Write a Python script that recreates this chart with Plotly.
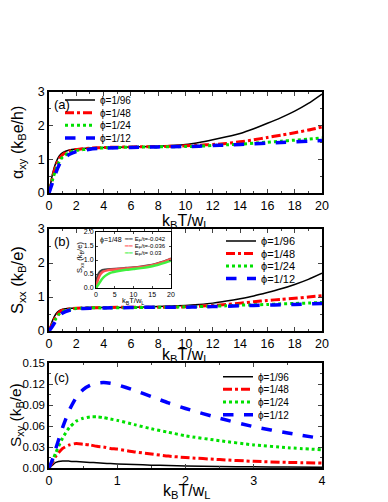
import plotly.graph_objects as go

# datos
phis = ['ϕ=1/96', 'ϕ=1/48', 'ϕ=1/24', 'ϕ=1/12']

T = [0, 0.25, 0.5, 0.75, 1, 1.5, 2, 3, 4, 6, 8, 10, 11, 12, 13, 14, 15, 16, 17, 18, 19, 20]

alpha_96 = [0, 0.55, 0.9, 1.1, 1.2, 1.28, 1.31, 1.34, 1.35, 1.37, 1.39, 1.44, 1.50, 1.58, 1.67, 1.77, 1.91, 2.07, 2.24, 2.43, 2.66, 2.94]
alpha_48 = [0, 0.45, 0.8, 1.02, 1.14, 1.25, 1.29, 1.33, 1.35, 1.37, 1.38, 1.40, 1.42, 1.44, 1.47, 1.52, 1.58, 1.65, 1.72, 1.79, 1.87, 1.96]
alpha_24 = [0, 0.38, 0.7, 0.93, 1.07, 1.2, 1.26, 1.31, 1.34, 1.36, 1.37, 1.38, 1.39, 1.41, 1.43, 1.45, 1.48, 1.51, 1.54, 1.57, 1.60, 1.64]
alpha_12 = [0, 0.3, 0.6, 0.84, 1.0, 1.15, 1.23, 1.30, 1.33, 1.35, 1.37, 1.38, 1.39, 1.41, 1.42, 1.44, 1.46, 1.48, 1.50, 1.52, 1.54, 1.56]

sxx_96 = [0, 0.3, 0.5, 0.6, 0.64, 0.67, 0.68, 0.69, 0.69, 0.70, 0.72, 0.75, 0.78, 0.82, 0.88, 0.95, 1.03, 1.13, 1.24, 1.37, 1.52, 1.70]
sxx_48 = [0, 0.22, 0.42, 0.55, 0.61, 0.65, 0.67, 0.68, 0.69, 0.70, 0.70, 0.71, 0.73, 0.75, 0.78, 0.82, 0.86, 0.90, 0.93, 0.96, 1.00, 1.04]
sxx_24 = [0, 0.18, 0.36, 0.5, 0.57, 0.63, 0.66, 0.68, 0.68, 0.69, 0.70, 0.71, 0.72, 0.73, 0.74, 0.76, 0.77, 0.78, 0.80, 0.81, 0.82, 0.84]
sxx_12 = [0, 0.14, 0.3, 0.44, 0.53, 0.61, 0.65, 0.67, 0.68, 0.69, 0.70, 0.70, 0.71, 0.72, 0.73, 0.74, 0.75, 0.76, 0.77, 0.78, 0.80, 0.81]

# inset (phi=1/48)
T_in = [0, 0.25, 0.5, 1, 1.5, 2, 3, 4, 6, 8, 10, 12, 14, 16, 18, 20]
ef_labels = ['E<sub>F</sub>/t=-0.042', 'E<sub>F</sub>/t=-0.036', 'E<sub>F</sub>/t= 0.03']
sxx_in_a = [0, 0.3, 0.45, 0.57, 0.62, 0.64, 0.66, 0.67, 0.69, 0.71, 0.73, 0.76, 0.80, 0.86, 0.94, 1.05]
sxx_in_b = [0, 0.15, 0.28, 0.45, 0.54, 0.59, 0.63, 0.65, 0.68, 0.70, 0.72, 0.75, 0.79, 0.85, 0.93, 1.04]
sxx_in_c = [0, 0.05, 0.1, 0.2, 0.3, 0.38, 0.48, 0.55, 0.61, 0.65, 0.68, 0.71, 0.75, 0.81, 0.89, 0.98]

Tc = [0, 0.05, 0.1, 0.2, 0.3, 0.4, 0.5, 0.6, 0.7, 0.8, 0.9, 1.0, 1.25, 1.5, 1.75, 2, 2.5, 3, 3.5, 4]
sxy_96 = [0, 0.004, 0.008, 0.010, 0.0098, 0.0092, 0.0085, 0.008, 0.0074, 0.0068, 0.0063, 0.0058, 0.0049, 0.0041, 0.0035, 0.003, 0.0022, 0.0017, 0.0013, 0.001]
sxy_48 = [0, 0.008, 0.017, 0.028, 0.033, 0.035, 0.034, 0.033, 0.031, 0.030, 0.028, 0.027, 0.023, 0.020, 0.017, 0.015, 0.012, 0.0095, 0.008, 0.007]
sxy_24 = [0, 0.01, 0.022, 0.043, 0.058, 0.067, 0.071, 0.073, 0.073, 0.072, 0.070, 0.068, 0.062, 0.056, 0.051, 0.046, 0.039, 0.033, 0.029, 0.026]
sxy_12 = [0, 0.012, 0.028, 0.058, 0.083, 0.101, 0.112, 0.118, 0.121, 0.122, 0.121, 0.119, 0.111, 0.102, 0.093, 0.085, 0.071, 0.059, 0.050, 0.042]

# estilos
colores = ['black', '#ff0000', '#00e000', '#0000ff']
dashes = ['solid', 'dashdot', 'dot', 'dash']
anchos = [1.5, 3, 3, 3.5]
colores_in = ['#444444', '#ff5050', '#40f040']

# la pagina tiene 8 px de margen en el body: figura de 380x494 y posiciones corregidas
OFF = 8
W, H = 388 - OFF, 502 - OFF
def fx(x):
    return (x - OFF) / W
def fy(y):
    return 1 - (y - OFF) / H
def px(x0, x1):
    return [fx(x0), fx(x1)]
def py(top, bottom):
    return [fy(bottom), fy(top)]

fuente = 'Liberation Sans, Arial, sans-serif'
fig = go.Figure()

# (ejes, x del texto de la leyenda, filas de la leyenda en px, tamaño de letra)
paneles = [
    ('x', 'y', T, [alpha_96, alpha_48, alpha_24, alpha_12], 100, [100, 112.7, 125.3, 138], 10),
    ('x2', 'y2', T, [sxx_96, sxx_48, sxx_24, sxx_12], 261, [241, 253.5, 266, 278.5], 11),
    ('x3', 'y3', Tc, [sxy_96, sxy_48, sxy_24, sxy_12], 258, [376.7, 389.3, 402, 414.7], 10),
]
legendas = {}
n = 0
for xa, ya, xs, series, xtxt, filas, fs in paneles:
    for i, ys in enumerate(series):
        n += 1
        nombre = 'legend' if n == 1 else 'legend%d' % n
        fig.add_trace(go.Scatter(
            x=xs, y=ys, xaxis=xa, yaxis=ya, legend=nombre, name=phis[i], mode='lines',
            line=dict(color=colores[i], dash=dashes[i], width=anchos[i], shape='spline', smoothing=0.6)))
        # una leyenda por curva para poder fijar el interlineado
        legendas[nombre] = dict(x=fx(xtxt - 40), y=fy(filas[i]), xanchor='left', yanchor='middle',
                                bgcolor='rgba(0,0,0,0)', font=dict(size=fs), itemwidth=30)

for i, ys in enumerate([sxx_in_a, sxx_in_b, sxx_in_c]):
    fig.add_trace(go.Scatter(
        x=T_in, y=ys, xaxis='x4', yaxis='y4', showlegend=False, mode='lines',
        line=dict(color=colores_in[i], width=2.5, shape='spline', smoothing=0.6)))

eje = dict(showline=True, linecolor='black', linewidth=1.5, mirror='allticks', ticks='inside',
           ticklen=4, tickwidth=1, showgrid=False, zeroline=False, automargin=False,
           tickfont=dict(size=12.5, color='black', family=fuente))
menor = dict(ticks='inside', ticklen=2)

fig.update_layout(
    width=W, height=H, margin=dict(l=0, r=0, t=0, b=0),
    paper_bgcolor='white', plot_bgcolor='white',
    font=dict(family=fuente, color='black'),
    xaxis=dict(eje, domain=px(49, 322), anchor='y', range=[0, 20], dtick=2, minor=dict(menor, dtick=1)),
    yaxis=dict(eje, domain=py(92, 193), anchor='x', range=[0, 3], dtick=1, minor=dict(menor, dtick=0.5)),
    xaxis2=dict(eje, domain=px(49, 322), anchor='y2', range=[0, 20], dtick=2, minor=dict(menor, dtick=1)),
    yaxis2=dict(eje, domain=py(229, 331), anchor='x2', range=[0, 3], dtick=1, minor=dict(menor, dtick=0.5)),
    xaxis3=dict(eje, domain=px(49, 322), anchor='y3', range=[0, 4], dtick=1, minor=dict(menor, dtick=0.5)),
    yaxis3=dict(eje, domain=py(363, 468), anchor='x3', range=[0, 0.15], dtick=0.03, tickformat='.2f',
                minor=dict(menor, dtick=0.015), tickfont=dict(size=11.5, color='black', family=fuente)),
    xaxis4=dict(eje, domain=px(96, 171), anchor='y4', range=[0, 20], dtick=5, ticklen=2, linewidth=1,
                tickfont=dict(size=7, color='black', family=fuente)),
    yaxis4=dict(eje, domain=py(232, 288), anchor='x4', range=[0, 2], dtick=0.5, tickformat='.1f', ticklen=2,
                linewidth=1, tickfont=dict(size=7, color='black', family=fuente)),
    **legendas,
)

# titulos de los ejes como anotaciones (posicion fija)
def texto(t, x, y, size, angle=0):
    fig.add_annotation(text=t, xref='paper', yref='paper', x=fx(x), y=fy(y), xanchor='center',
                       yanchor='middle', showarrow=False, textangle=angle, font=dict(size=size))

xtit = 'k<sub>B</sub>T/w<sub>L</sub>'
texto(xtit, 185, 221, 16)
texto(xtit, 185, 355, 16)
texto(xtit, 186, 491, 16)
texto('α<sub>xy</sub> (k<sub>B</sub>e/h)', 18, 143, 16, -90)
texto('S<sub>xx</sub> (k<sub>B</sub>/e)', 18, 280, 16.5, -90)
texto('S<sub>xy</sub> (k<sub>B</sub>/e)', 16, 415, 15.5, -90)
texto(xtit, 133, 301, 7.5)
texto('S<sub>xx</sub> (k<sub>B</sub>/e)', 80, 258, 7.5, -90)

# etiquetas de panel
for txt, yy in [('(a)', 104), ('(b)', 242), ('(c)', 377)]:
    fig.add_annotation(text=txt, xref='paper', yref='paper', x=fx(52), y=fy(yy),
                       xanchor='left', yanchor='middle', showarrow=False, font=dict(size=13))

# leyenda del inset como texto
fig.add_annotation(text='ϕ=1/48', xref='paper', yref='paper', x=fx(98), y=fy(240),
                   xanchor='left', yanchor='middle', showarrow=False, font=dict(size=7))
for i, lab in enumerate(ef_labels):
    fig.add_annotation(text='<span style="color:%s">━━</span> %s' % (colores_in[i], lab),
                       xref='paper', yref='paper', x=fx(122), y=fy(239 + 7.5 * i),
                       xanchor='left', yanchor='middle', showarrow=False, font=dict(size=6))

fig.write_html("out.html")
